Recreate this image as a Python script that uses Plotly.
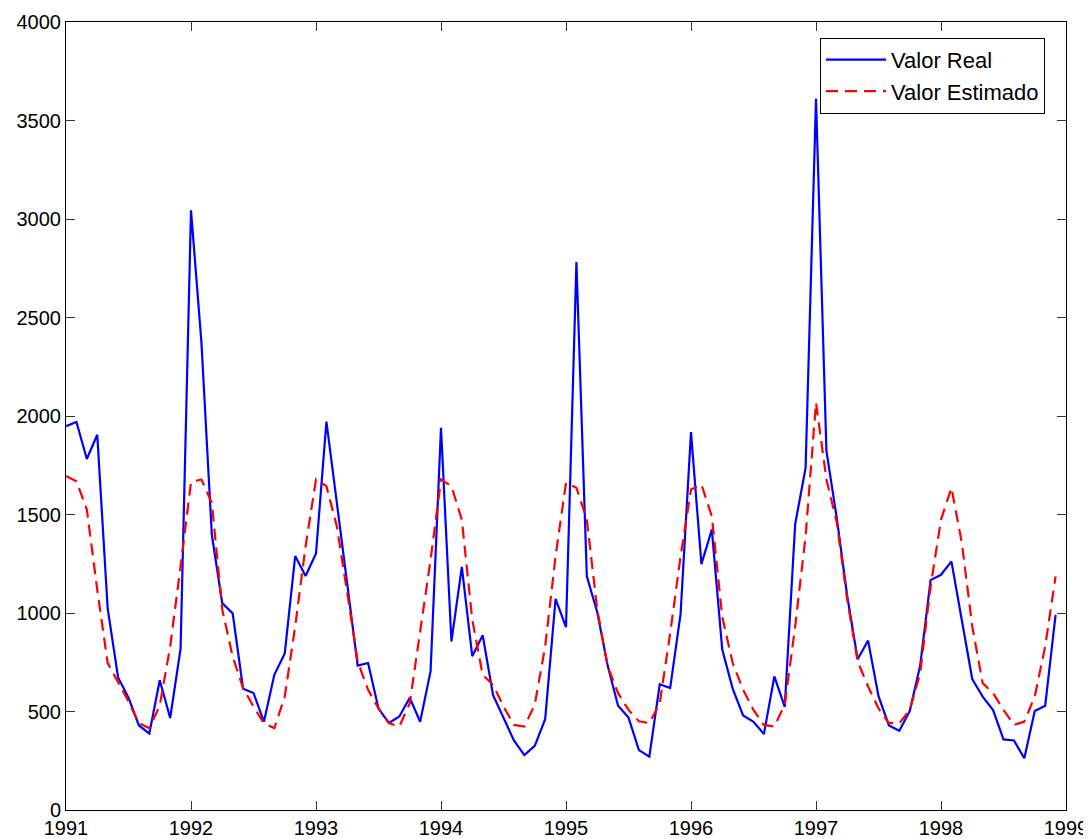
import numpy as np
import plotly.graph_objects as go

# Monthly series Jan 1991 .. Dec 1998
start_year = 1991
n_months = 96

valor_real = [
    1948, 1970, 1782, 1905, 1023, 673, 570, 429, 388, 659, 467, 819,
    3044, 2374, 1397, 1050, 998, 616, 594, 448, 686, 795, 1289, 1188,
    1302, 1972, 1560, 1140, 733, 746, 515, 442, 475, 570, 448, 705,
    1940, 855, 1234, 781, 887, 583, 469, 353, 279, 326, 461, 1072,
    928, 2781, 1186, 1004, 733, 529, 469, 304, 271, 638, 619, 996,
    1918, 1248, 1424, 814, 616, 480, 448, 385, 678, 524, 1451, 1736,
    3610, 1823, 1480, 1085, 765, 860, 578, 429, 402, 502, 733, 1167,
    1194, 1262, 963, 665, 575, 507, 358, 353, 263, 502, 529, 990,
]

valor_estimado = [
    1695, 1669, 1525, 1118, 746, 652, 551, 441, 415, 530, 830, 1237,
    1665, 1678, 1559, 1017, 779, 619, 525, 440, 415, 576, 932, 1339,
    1678, 1644, 1440, 1102, 754, 610, 516, 441, 424, 542, 898, 1271,
    1678, 1644, 1474, 966, 686, 636, 525, 432, 424, 534, 830, 1290,
    1661, 1636, 1474, 1017, 729, 593, 508, 450, 441, 542, 898, 1288,
    1627, 1652, 1491, 980, 746, 610, 508, 432, 424, 534, 932, 1390,
    2068, 1678, 1458, 1068, 754, 627, 516, 441, 440, 508, 695, 1135,
    1474, 1636, 1356, 932, 644, 593, 508, 432, 449, 576, 830, 1186,
]

x_ticks = list(range(1991, 2000))
y_ticks = list(range(0, 4001, 500))

t = [start_year + k / 12 for k in range(n_months)]

fig = go.Figure()
fig.add_trace(go.Scatter(
    x=t, y=valor_real, mode="lines", name="Valor Real",
    line=dict(color="#0000ff", width=2.2),
))
fig.add_trace(go.Scatter(
    x=t, y=valor_estimado, mode="lines", name="Valor Estimado",
    line=dict(color="#ff0000", width=2.2, dash="12px,7px"),
))

font_family = "Liberation Sans, Arial, Helvetica, sans-serif"
axis_common = dict(
    showline=True, linecolor="black", linewidth=1, mirror="ticks",
    ticks="inside", ticklen=9, tickwidth=1, tickcolor="#333333",
    showgrid=False, zeroline=False, automargin=False,
    tickfont=dict(family=font_family, size=20, color="black"),
)

# page body has an 8px margin, so the figure is sized to fill the rest
fig.update_layout(
    width=1083, height=831,
    margin=dict(l=58, r=25, t=14, b=29),
    paper_bgcolor="white", plot_bgcolor="white",
    showlegend=True,
    legend=dict(
        x=0.979, y=0.98, xanchor="right", yanchor="top",
        bgcolor="white", bordercolor="black", borderwidth=1,
        font=dict(family=font_family, size=22, color="black"),
        tracegroupgap=0, itemwidth=60,
    ),
    xaxis=dict(range=[1991, 1999], tickvals=x_ticks,
               ticktext=[str(v) for v in x_ticks], **axis_common),
    yaxis=dict(range=[0, 4000], tickvals=y_ticks,
               ticktext=[str(v) for v in y_ticks], **axis_common),
)

fig.write_html("out.html")
